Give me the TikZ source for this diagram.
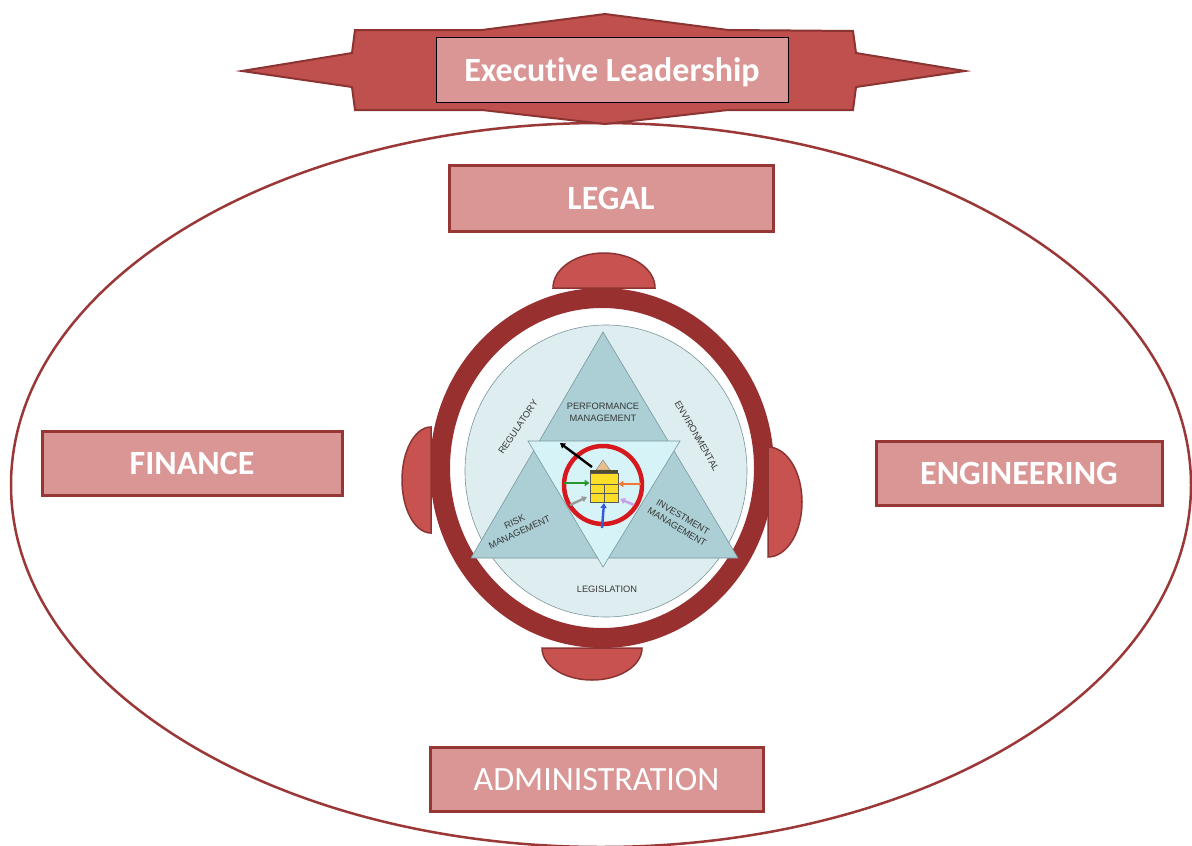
\documentclass[tikz,border=0pt]{standalone}
\usepackage{fontspec}
\setmainfont{Carlito}[Ligatures=NoCommon]
\newfontfamily\labelfont{Liberation Sans}
\usetikzlibrary{arrows.meta}

\definecolor{boxfill}{RGB}{217,150,149}
\definecolor{boxedge}{RGB}{150,55,54}
\definecolor{bannerfill}{RGB}{192,80,77}
\definecolor{banneredge}{RGB}{140,52,50}
\definecolor{ringred}{RGB}{152,48,47}
\definecolor{knobfill}{RGB}{200,82,80}
\definecolor{ovaledge}{RGB}{155,55,55}
\definecolor{discfill}{RGB}{222,238,240}
\definecolor{trifill}{RGB}{171,207,213}
\definecolor{innerfill}{RGB}{214,243,248}
\definecolor{greyline}{RGB}{120,150,155}
\definecolor{labeltext}{RGB}{55,55,55}
\definecolor{hubred}{RGB}{215,25,30}
\definecolor{hubyellow}{RGB}{250,222,40}
\definecolor{hubgreen}{RGB}{40,150,45}
\definecolor{huborange}{RGB}{240,120,50}
\definecolor{hubblue}{RGB}{50,90,220}
\definecolor{hublilac}{RGB}{200,160,230}
\definecolor{hubroof}{RGB}{232,190,140}

\begin{document}
\begin{tikzpicture}[x=1pt,y=-1pt,
  deptbox/.style={draw=boxedge, line width=3, fill=boxfill, text=white,
    inner sep=0pt, text depth=0pt, font=\fontsize{34}{40}\selectfont\bfseries},
  ringlabel/.style={text=labeltext, font=\labelfont\fontsize{9.3}{11.6}\selectfont,
    align=center, inner sep=0pt},
  knob/.style={fill=knobfill, draw=banneredge, line width=1.5},
  flow/.style={-{Triangle[length=5,width=6]}, line width=2.4}
]
\useasboundingbox (0,0) rectangle (1192,846);
\fill[white] (0,0) rectangle (1192,846);

% organisation oval
\draw[ovaledge, line width=2.5, fill=white] (601,485) ellipse [x radius=590, y radius=362];

% leadership banner
\draw[fill=bannerfill, draw=banneredge, line width=2, line join=miter]
  (242,71) -- (352,53) -- (355,30) -- (482,30) -- (605,14) -- (728,30)
  -- (853,31) -- (856,53) -- (965,71) -- (856,87) -- (853,110)
  -- (728,110) -- (605,124) -- (482,110) -- (355,110) -- (352,87) -- cycle;
\node[draw=black, line width=0.8, fill=boxfill, text=white, inner sep=0pt,
  text depth=0pt, minimum width=352, minimum height=65,
  font=\fontsize{34}{40}\selectfont\bfseries] (exec) at (612,69.5) {Executive Leadership};

% departments
\node[deptbox, minimum width=324, minimum height=66] (legal) at (611,198) {LEGAL};
\node[deptbox, minimum width=300, minimum height=64] (finance) at (192,463) {FINANCE};
\node[deptbox, minimum width=286, minimum height=64] (engineering) at (1019,473) {ENGINEERING};
\node[deptbox, minimum width=333, minimum height=64,
  font=\fontsize{34}{40}\selectfont] (admin) at (596.5,779) {ADMINISTRATION};

% wheel rim and its four grips
\draw[ringred, line width=20, fill=white] (602,468) ellipse [x radius=162, y radius=170];
\draw[knob] (553,288) arc[start angle=180, end angle=360, x radius=51, y radius=35] -- cycle;
\draw[knob] (431,427) arc[start angle=270, end angle=90, x radius=29, y radius=53] -- cycle;
\draw[knob] (768,447) arc[start angle=-90, end angle=90, x radius=34, y radius=55] -- cycle;
\draw[knob] (542,648) arc[start angle=180, end angle=0, x radius=50, y radius=32] -- cycle;

% governance disc with the three management triangles
\draw[greyline, line width=0.6, fill=discfill] (606,471) ellipse [x radius=141, y radius=146];
\draw[greyline, line width=0.6, fill=trifill] (603,332) -- (738,558) -- (471,558) -- cycle;
\draw[greyline, line width=0.6, fill=innerfill] (528,441) -- (680,441) -- (603,567) -- cycle;

\node[ringlabel] (perf) at (603,412) {PERFORMANCE\\MANAGEMENT};
\node[ringlabel, rotate=56] (reg) at (518,427) {REGULATORY};
\node[ringlabel, rotate=-60] (env) at (697,436) {ENVIRONMENTAL};
\node[ringlabel, rotate=25] (risk) at (517,527) {RISK\\MANAGEMENT};
\node[ringlabel, rotate=-31] (invest) at (680,522) {INVESTMENT\\MANAGEMENT};
\node[ringlabel] (legis) at (607,589) {LEGISLATION};

% asset hub in the centre
\draw[hubred, line width=4.5] (603,485) circle (39);
\draw[fill=hubroof, draw=black!50, line width=0.4] (596,470) -- (603,460) -- (610,470) -- cycle;
\fill[black!55!olive] (590,469.5) rectangle (618,474);
\node[draw=black!65, line width=0.6, fill=hubyellow, minimum width=28, minimum height=29,
  inner sep=0pt] (hub) at (604,488) {};
\draw[black!65, line width=0.5] (590,484) -- (618,484) (590,493) -- (618,493) (604,484) -- (604,502);

\coordinate (blackA) at (592,467);  \coordinate (blackB) at (560,443);
\coordinate (greenA) at (564,483);  \coordinate (orangeA) at (641,484);
\coordinate (blueA) at (602,528);   \coordinate (greyA) at (570,505);
\coordinate (greyB) at (587,497);   \coordinate (lilacA) at (634,505);
\coordinate (lilacB) at (620,499);

\draw[flow, black] (blackA) -- (blackB);
\draw[flow, hubgreen] (greenA) -- (hub.west |- greenA);
\draw[flow, huborange] (orangeA) -- (hub.east |- orangeA);
\draw[flow, hubblue] (blueA) -- (hub.south |- 0,503);
\draw[flow, black!40] (greyA) -- (greyB);
\draw[flow, hublilac] (lilacA) -- (lilacB);
\end{tikzpicture}
\end{document}
